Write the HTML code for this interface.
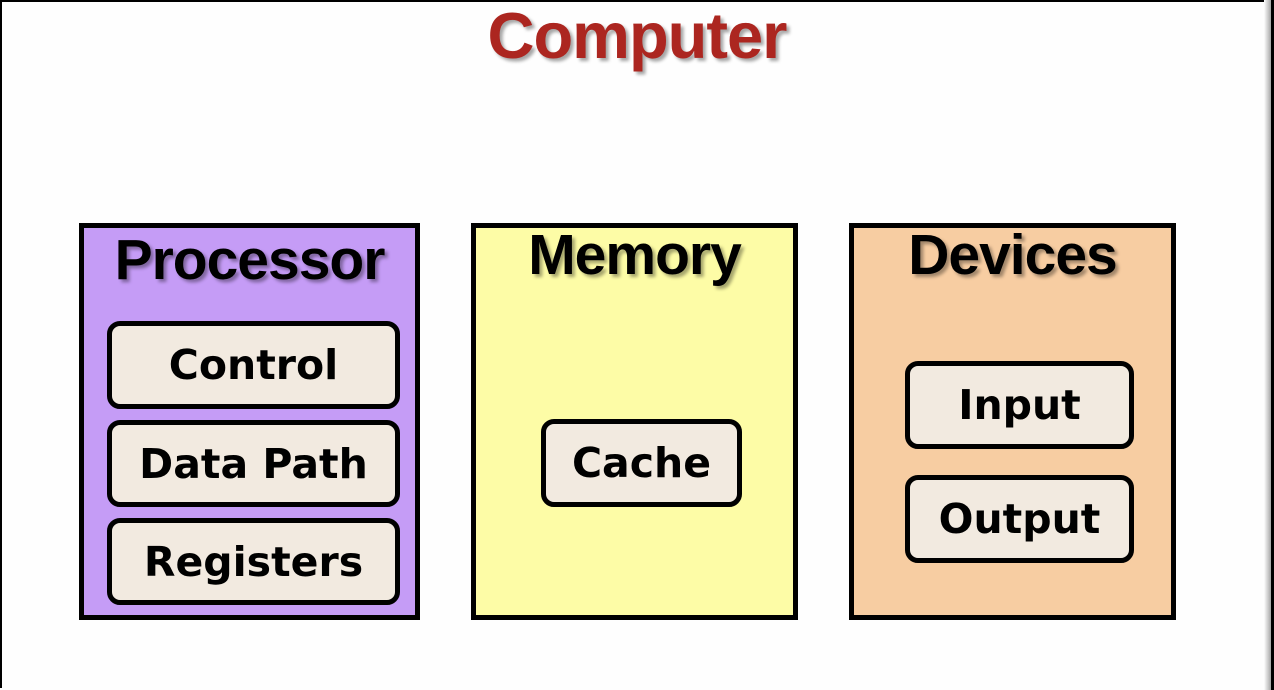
<!DOCTYPE html>
<html><head><style>
body{margin:0;width:1274px;height:690px;background:#fefefe;position:relative;overflow:hidden;font-family:"Liberation Sans",sans-serif}
.frame{position:absolute;left:0;top:0;width:1270px;height:688px;border-top:2px solid #000;border-left:2px solid #000;box-sizing:border-box}
.rs{position:absolute;left:1264px;top:0;width:8px;height:690px;background:linear-gradient(to right,#fefefe,#999)}
.rl{position:absolute;left:1271px;top:0;width:3px;height:690px;background:#000}
.title{position:absolute;left:0;width:1274px;top:-2px;text-align:center;font-size:65px;font-weight:bold;color:#ac2620;text-shadow:3px 3px 3px rgba(0,0,0,.35);letter-spacing:-1px}
.big{position:absolute;border:5px solid #000;box-sizing:border-box}
.h{position:absolute;left:0;right:0;text-align:center;font-size:57px;font-weight:bold;color:#000;text-shadow:3px 3px 3px rgba(0,0,0,.35);letter-spacing:-1px}
.in{position:absolute;border:5px solid #000;border-radius:13px;background:#f2eae0;box-sizing:border-box;display:flex;align-items:center;justify-content:center;font-family:"DejaVu Sans",sans-serif;font-weight:bold;font-size:41px;color:#000}
</style></head><body>
<div class="frame"></div><div class="rs"></div><div class="rl"></div>
<div class="title">Computer</div>
<div class="big" style="left:79px;top:223px;width:341px;height:397px;background:#c59cf6"><div class="h" style="top:-1px">Processor</div></div>
<div class="big" style="left:471px;top:223px;width:327px;height:397px;background:#fdfca6"><div class="h" style="top:-6px">Memory</div></div>
<div class="big" style="left:849px;top:223px;width:327px;height:397px;background:#f7cda2"><div class="h" style="top:-6px">Devices</div></div>
<div class="in" style="left:107px;top:321px;width:293px;height:88px">Control</div>
<div class="in" style="left:107px;top:420px;width:293px;height:87px">Data Path</div>
<div class="in" style="left:107px;top:518px;width:293px;height:87px">Registers</div>
<div class="in" style="left:541px;top:419px;width:201px;height:88px">Cache</div>
<div class="in" style="left:905px;top:361px;width:229px;height:88px">Input</div>
<div class="in" style="left:905px;top:475px;width:229px;height:88px">Output</div>
</body></html>
